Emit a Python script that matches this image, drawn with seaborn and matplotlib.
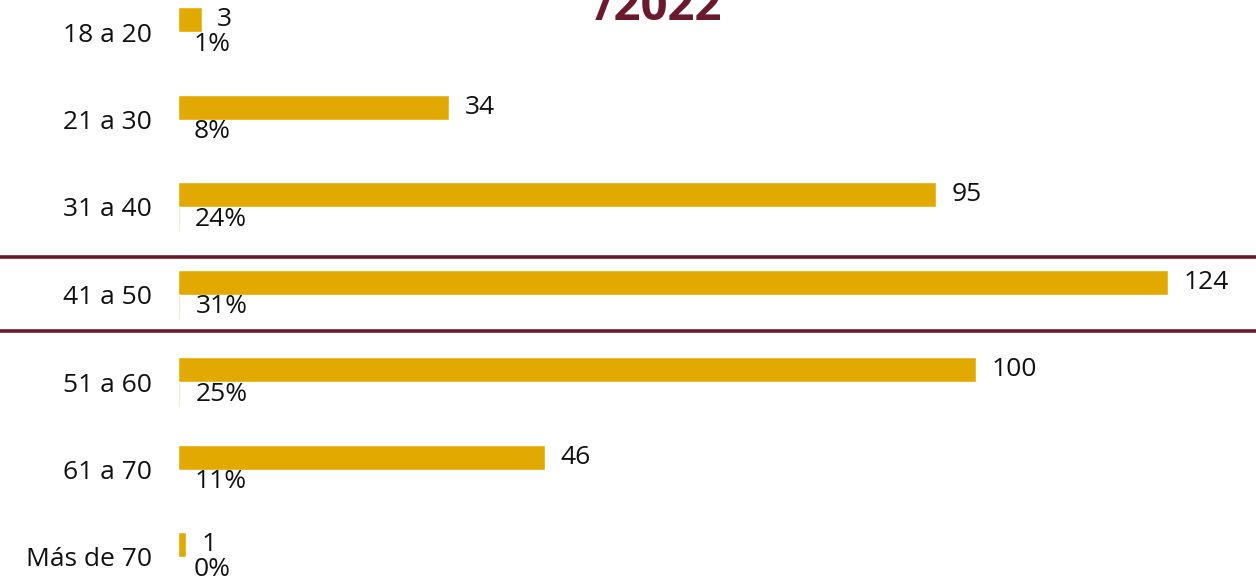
import pandas as pd
import matplotlib.pyplot as plt
from matplotlib.lines import Line2D
import seaborn as sns

# Edad de las personas (rangos) - cantidad y porcentaje
rangos = ['18 a 20', '21 a 30', '31 a 40', '41 a 50', '51 a 60', '61 a 70', 'Más de 70']
cantidad = [3, 34, 95, 124, 100, 46, 1]
porcentaje = [0.01, 0.08, 0.24, 0.31, 0.25, 0.11, 0.00]

df = pd.DataFrame({
    'rango': rangos * 2,
    'serie': ['Cantidad'] * len(rangos) + ['Porcentaje'] * len(rangos),
    'valor': cantidad + porcentaje,
})

sns.set_theme(style='white')
plt.rcParams['font.family'] = ['Open Sans', 'DejaVu Sans']

fig = plt.figure(figsize=(12.56, 5.84), dpi=100)
ax = fig.add_axes([178 / 1256, 0, 1 - 178 / 1256, 1])

sns.barplot(data=df, y='rango', x='valor', hue='serie', orient='h',
            palette={'Cantidad': '#E2AA00', 'Porcentaje': '#FFD591'},
            width=0.57, saturation=1, legend=False, ax=ax)

ax.bar_label(ax.containers[0], labels=[str(v) for v in cantidad],
             padding=11, fontsize=19, color='#111111')
ax.bar_label(ax.containers[1], labels=[f'{round(v * 100)}%' for v in porcentaje],
             padding=11, fontsize=19, color='#111111')

ax.set_xlim(0, 124 * (1256 - 178) / 990)
ax.set_ylim(6 + 27 / 87.5, -32 / 87.5)
ax.set_xlabel('')
ax.set_ylabel('')
ax.set_xticks([])
ax.tick_params(axis='y', length=0, pad=19, labelsize=19, labelcolor='#111111')
sns.despine(ax=ax, left=True, bottom=True)

# resaltar el rango con más personas
for yf in (1 - 257 / 584, 1 - 331 / 584):
    fig.add_artist(Line2D([0, 1], [yf, yf], transform=fig.transFigure,
                          color='#6B1A2E', linewidth=2.6))

fig.text(0.524, 1 - 20 / 584, '/2022', ha='center', va='baseline',
         fontsize=34, fontweight='bold', color='#6B1A2E')

fig.savefig('out.png', dpi=100)
